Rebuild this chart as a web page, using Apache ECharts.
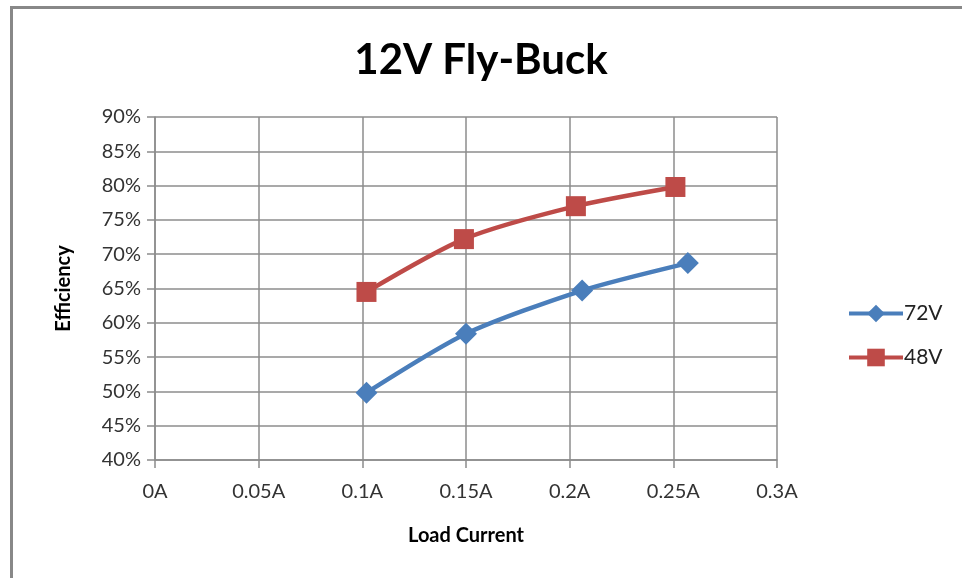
<!DOCTYPE html>
<html>
<head>
<meta charset="utf-8">
<style>
  html, body { margin: 0; padding: 0; background: #fff; }
  #chart { width: 962px; height: 578px; }
</style>
<script src="https://cdn.jsdelivr.net/npm/echarts@6/dist/echarts.min.js"></script>
</head>
<body>
<div id="chart"></div>
<script>
// load current (A) and efficiency (%)
const current72 = [0.102, 0.150, 0.206, 0.257];
const eff72 = [49.8, 58.4, 64.7, 68.7];
const current48 = [0.102, 0.149, 0.203, 0.251];
const eff48 = [64.5, 72.2, 77.0, 79.8];

const FONT = 'Lato, "Open Sans", sans-serif';
const GRID_COLOR = '#8c8c8c';

const chart = echarts.init(document.getElementById('chart'));

const option = {
  backgroundColor: '#fff',
  animation: false,
  textStyle: { fontFamily: FONT },
  title: {
    text: '12V Fly-Buck',
    left: 'center',
    top: 34,
    textStyle: { fontSize: 42, fontWeight: 'bold', color: '#000', fontFamily: FONT }
  },
  graphic: [{
    type: 'rect',
    left: 9, top: 5,
    shape: { width: 1000, height: 1000 },
    style: { fill: 'none', stroke: '#888', lineWidth: 3 },
    silent: true
  }],
  legend: {
    orient: 'vertical',
    left: 842,
    top: 298,
    itemWidth: 54,
    itemHeight: 22,
    itemGap: 23,
    lineStyle: { width: 4 },
    textStyle: { fontSize: 21, color: '#222', fontFamily: FONT, padding: [0, 0, 0, -4] },
    data: ['72V', '48V']
  },
  grid: { left: 155, right: 185, top: 117, bottom: 118 },
  xAxis: {
    type: 'value',
    min: 0, max: 0.3, interval: 0.05,
    name: 'Load Current',
    nameLocation: 'middle',
    nameGap: 66,
    nameTextStyle: { fontSize: 20, fontWeight: 'bold', color: '#000', fontFamily: FONT },
    axisLine: { show: true, lineStyle: { color: GRID_COLOR, width: 1.5 } },
    axisTick: { show: true, length: 8, lineStyle: { color: GRID_COLOR, width: 1.5 } },
    axisLabel: {
      fontSize: 20, color: '#333', margin: 22, fontFamily: FONT,
      formatter: v => parseFloat(v.toFixed(2)) + 'A'
    },
    splitLine: { show: true, lineStyle: { color: GRID_COLOR, width: 1.5 } }
  },
  yAxis: {
    type: 'value',
    min: 40, max: 90, interval: 5,
    name: 'Efficiency',
    nameLocation: 'middle',
    nameGap: 81,
    nameRotate: 90,
    nameTextStyle: { fontSize: 20, fontWeight: 'bold', color: '#000', fontFamily: FONT },
    axisLine: { show: true, lineStyle: { color: GRID_COLOR, width: 1.5 } },
    axisTick: { show: true, length: 8, lineStyle: { color: GRID_COLOR, width: 1.5 } },
    axisLabel: { fontSize: 20, color: '#333', margin: 14, fontFamily: FONT, formatter: '{value}%' },
    splitLine: { show: true, lineStyle: { color: GRID_COLOR, width: 1.5 } }
  },
  series: [
    {
      name: '72V',
      type: 'line',
      smooth: 0.25,
      symbol: 'diamond',
      symbolSize: 22,
      itemStyle: { color: '#4a7ebb' },
      lineStyle: { width: 4.5, color: '#4a7ebb' },
      data: current72.map((x, i) => [x, eff72[i]])
    },
    {
      name: '48V',
      type: 'line',
      smooth: 0.25,
      symbol: 'rect',
      symbolSize: 20,
      itemStyle: { color: '#be4b48' },
      lineStyle: { width: 4.5, color: '#be4b48' },
      data: current48.map((x, i) => [x, eff48[i]])
    }
  ]
};

chart.setOption(option);
</script>
</body>
</html>
